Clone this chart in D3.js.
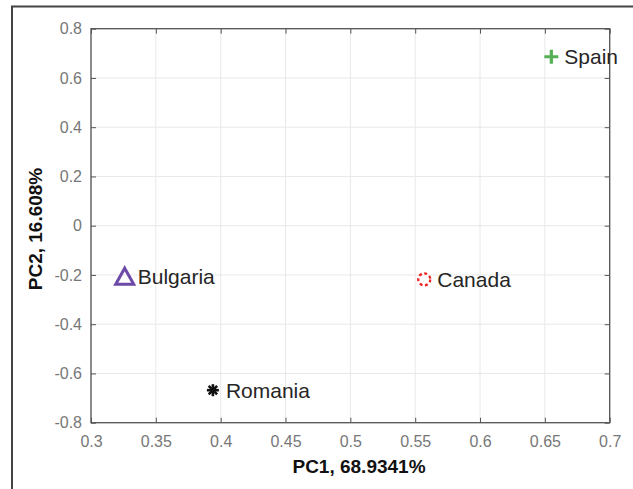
<!DOCTYPE html>
<html><head><meta charset="utf-8">
<script src="https://cdn.jsdelivr.net/npm/d3@7"></script>
<style>body{margin:0;background:#fff}svg{display:block}</style>
</head><body>
<script>
const countries = ["Spain","Bulgaria","Romania","Canada"];
const pc1 = [0.655, 0.326, 0.394, 0.557];
const pc2 = [0.686, -0.207, -0.668, -0.218];
const markers = ["plus","triangle","asterisk","circle"];
const colors = ["#55b055","#6e4aa8","#111111","#ee2222"];
const xTicks = [0.3,0.35,0.4,0.45,0.5,0.55,0.6,0.65,0.7];
const yTicks = [-0.8,-0.6,-0.4,-0.2,0,0.2,0.4,0.6,0.8];
const xTitle = "PC1, 68.9341%";
const yTitle = "PC2, 16.608%";

const W=633,H=489;
const L=91,R=609.7,T=28.7,B=422.7;
const svg=d3.select("body").append("svg").attr("width",W).attr("height",H);
const x=d3.scaleLinear().domain([0.3,0.7]).range([L,R]);
const y=d3.scaleLinear().domain([-0.8,0.8]).range([B,T]);

// outer frame
svg.append("path").attr("d",`M12,${H} L12,6.5 L${W},6.5`).attr("fill","none").attr("stroke","#444").attr("stroke-width",2);

// grid
const g=svg.append("g");
g.selectAll(".gx").data(xTicks).join("line").attr("x1",d=>x(d)).attr("x2",d=>x(d)).attr("y1",T).attr("y2",B).attr("stroke","#e8e8e8").attr("stroke-width",1);
g.selectAll(".gy").data(yTicks).join("line").attr("y1",d=>y(d)).attr("y2",d=>y(d)).attr("x1",L).attr("x2",R).attr("stroke","#e8e8e8").attr("stroke-width",1);

// axes
const fmt=d=>String(d);
function styleAxis(sel){
  sel.select(".domain").remove();
  sel.selectAll(".tick line").attr("stroke","#555");
  sel.selectAll(".tick text").attr("fill","#777").attr("font-family","Liberation Sans, Arial, sans-serif").attr("font-size","16px");
}
svg.append("g").attr("transform",`translate(0,${B})`).call(d3.axisBottom(x).tickValues(xTicks).tickFormat(fmt).tickSizeInner(-5).tickSizeOuter(0).tickPadding(13)).call(styleAxis);
svg.append("g").attr("transform",`translate(0,${T})`).call(d3.axisTop(x).tickValues(xTicks).tickFormat("").tickSizeInner(-5).tickSizeOuter(0)).call(styleAxis);
svg.append("g").attr("transform",`translate(${L},0)`).call(d3.axisLeft(y).tickValues(yTicks).tickFormat(fmt).tickSizeInner(-5).tickSizeOuter(0).tickPadding(9)).call(styleAxis);
svg.append("g").attr("transform",`translate(${R},0)`).call(d3.axisRight(y).tickValues(yTicks).tickFormat("").tickSizeInner(-5).tickSizeOuter(0)).call(styleAxis);
svg.append("rect").attr("x",L).attr("y",T).attr("width",R-L).attr("height",B-T).attr("fill","none").attr("stroke","#555").attr("stroke-width",1.3);

// titles
svg.append("text").attr("x",359).attr("y",473).attr("text-anchor","middle").attr("font-family","Liberation Sans, Arial, sans-serif").attr("font-weight","bold").attr("font-size","19px").attr("fill","#111").text(xTitle);
svg.append("text").attr("transform",`translate(42,229) rotate(-90)`).attr("text-anchor","middle").attr("font-family","Liberation Sans, Arial, sans-serif").attr("font-weight","bold").attr("font-size","19px").attr("fill","#111").text(yTitle);

// markers
const pts=countries.map((c,i)=>({c,x:pc1[i],y:pc2[i],m:markers[i],col:colors[i]}));
const mg=svg.append("g");
pts.forEach(p=>{
  const cx=x(p.x),cy=y(p.y);
  const s=mg.append("g").attr("transform",`translate(${cx},${cy})`);
  if(p.m==="plus"){
    s.append("path").attr("d","M-7,0H7M0,-7V7").attr("stroke",p.col).attr("stroke-width",3.2).attr("fill","none");
  } else if(p.m==="triangle"){
    s.append("path").attr("d","M0,-8.5L9,7.5L-9,7.5Z").attr("stroke",p.col).attr("stroke-width",3).attr("fill","none").attr("stroke-linejoin","miter");
  } else if(p.m==="asterisk"){
    for(let k=0;k<4;k++){
      const a=k*Math.PI/4;
      s.append("line").attr("x1",-6*Math.cos(a)).attr("y1",-6*Math.sin(a)).attr("x2",6*Math.cos(a)).attr("y2",6*Math.sin(a)).attr("stroke",p.col).attr("stroke-width",2.6);
    }
  } else {
    s.append("circle").attr("r",6).attr("fill","none").attr("stroke",p.col).attr("stroke-width",2.3).attr("stroke-dasharray","3,2.5");
  }
  svg.append("text").attr("x",cx+13).attr("y",cy+7.5).attr("font-family","Liberation Sans, Arial, sans-serif").attr("font-size","21px").attr("fill","#262626").text(p.c);
});
</script>
</body></html>
